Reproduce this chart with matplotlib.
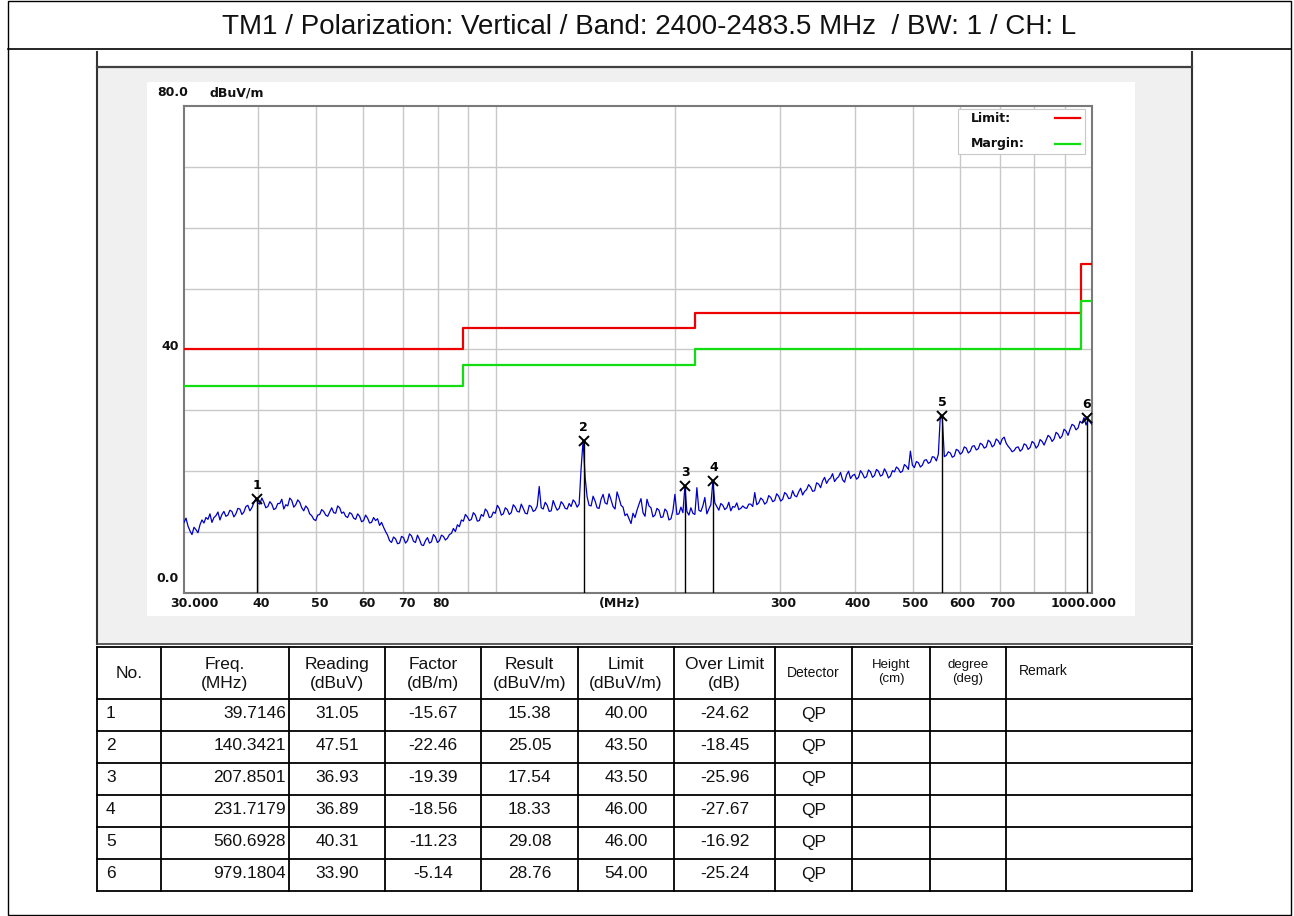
import matplotlib
matplotlib.use("Agg")
import matplotlib.pyplot as plt
import matplotlib.transforms as mtransforms
from matplotlib.patches import Rectangle
import numpy as np

W, H = 1294, 916

title = "TM1 / Polarization: Vertical / Band: 2400-2483.5 MHz  / BW: 1 / CH: L"

# limit and margin steps (MHz, dBuV/m)
step_freq = [30, 88, 216, 960, 1000]
limit_level = [40, 43.5, 46, 54, 54]
margin_level = [34, 37.5, 40, 48, 48]

trace_level = [
    11.6, 12.3, 11.0, 10.2, 9.6, 10.8, 10.4, 9.9, 11.2, 12.0, 11.5, 12.4,
    12.1, 13.0, 11.6, 12.4, 12.7, 13.3, 12.0, 12.9, 13.4, 12.6, 12.8, 13.6,
    13.4, 12.5, 13.0, 13.9, 13.8, 12.9, 13.3, 14.2, 14.4, 13.5, 14.0, 14.8,
    15.5, 14.8, 14.6, 15.6, 14.9, 14.0, 14.2, 15.0, 14.6, 13.7, 13.9, 14.7,
    14.7, 15.4, 13.8, 14.5, 14.3, 15.6, 15.2, 14.1, 14.5, 15.3, 14.9, 14.0,
    13.5, 14.3, 13.9, 13.0, 12.7, 12.1, 11.9, 12.8, 12.9, 13.7, 13.4, 12.8,
    12.6, 13.3, 14.0, 13.2, 13.1, 14.3, 14.0, 13.1, 13.3, 12.6, 12.4, 13.2,
    13.0, 12.3, 12.1, 13.0, 12.6, 11.7, 11.9, 12.8, 12.3, 11.5, 11.6, 12.4,
    11.9, 12.2, 11.1, 11.6, 10.8, 10.1, 9.5, 8.6, 8.3, 9.2, 8.9, 8.1,
    8.2, 9.3, 9.1, 8.2, 8.6, 9.7, 9.4, 8.5, 8.3, 9.5, 8.8, 7.9,
    7.8, 8.6, 9.1, 8.2, 8.4, 9.6, 9.2, 8.3, 8.6, 9.5, 9.3, 8.7,
    9.0, 9.6, 9.8, 10.6, 10.1, 11.2, 10.9, 12.0, 11.8, 12.9, 12.5, 11.9,
    12.1, 13.2, 12.8, 11.8, 11.9, 12.9, 12.6, 13.8, 13.4, 12.4, 12.5, 13.3,
    13.1, 14.4, 13.9, 12.8, 13.0, 14.0, 13.7, 12.9, 13.2, 14.5, 14.1, 13.4,
    13.3, 14.6, 13.9, 13.1, 13.0, 14.4, 14.2, 13.4, 13.6, 14.3, 17.5, 14.0,
    13.8, 14.9, 14.4, 13.4, 13.5, 15.2, 14.3, 13.6, 13.9, 15.0, 14.6, 13.9,
    13.8, 14.7, 14.2, 15.3, 14.9, 14.1, 14.6, 20.5, 25.1, 19.0, 15.8, 14.4,
    14.3, 15.9, 15.1, 14.0, 13.9, 15.4, 16.2, 14.8, 14.6, 16.3, 15.3, 14.2,
    13.8, 16.6, 15.6, 14.4, 14.1, 12.7, 13.0, 12.2, 11.4, 13.1, 12.4, 13.6,
    14.6, 15.5, 13.2, 12.6, 15.4, 14.3, 14.0, 12.5, 12.8, 13.9, 13.6, 12.4,
    12.5, 13.8, 13.4, 12.0, 12.2, 13.5, 16.2, 12.9, 13.0, 14.1, 13.2, 17.5,
    13.4, 12.8, 14.0, 13.1, 12.9, 17.3, 13.6, 13.4, 14.3, 15.7, 13.0, 13.8,
    14.5, 18.3, 14.8, 14.2, 13.6, 14.7, 14.4, 13.7, 14.0, 14.9, 13.5, 14.2,
    14.1, 14.8, 13.7, 13.9, 14.3, 14.0, 13.9, 14.6, 14.6, 14.2, 16.5, 14.5,
    14.8, 15.6, 15.3, 14.6, 14.9, 16.0, 15.7, 15.0, 15.2, 16.3, 15.9, 15.1,
    15.4, 16.5, 16.2, 15.5, 15.6, 16.8, 16.0, 15.8, 16.6, 17.2, 16.1, 16.7,
    17.0, 17.8, 17.4, 16.7, 16.8, 18.1, 17.9, 17.3, 18.4, 19.0, 18.0, 18.6,
    18.9, 19.6, 18.3, 18.8, 19.1, 19.8, 18.6, 18.2, 19.4, 20.0, 18.8, 19.3,
    19.5, 18.7, 19.0, 20.1, 19.6, 18.9, 19.1, 20.2, 19.9, 19.0, 19.3, 20.3,
    20.0, 19.2, 19.4, 20.4, 19.8, 18.9, 19.2, 20.1, 19.9, 20.7, 20.4, 19.8,
    20.0, 21.1, 20.8, 20.3, 23.3, 21.0, 20.6, 21.6, 21.4, 20.7, 21.0, 21.8,
    21.9, 21.3, 21.5, 22.4, 22.3, 21.7, 22.8, 29.1, 28.6, 22.4, 22.6, 23.2,
    23.0, 22.3, 22.5, 23.6, 23.4, 22.8, 23.1, 24.0, 23.8, 23.0, 23.3, 24.1,
    24.2, 23.5, 23.7, 24.6, 24.4, 23.8, 24.0, 25.1, 24.8, 24.0, 24.3, 25.3,
    25.0, 24.4, 25.3, 25.6, 24.6, 24.1, 23.7, 23.2, 23.4, 23.9, 24.0, 23.3,
    23.6, 24.5, 24.3, 23.6, 23.9, 24.9, 24.6, 23.8, 24.2, 25.2, 24.9, 24.3,
    25.1, 25.9, 25.6, 24.9, 25.3, 26.4, 26.1, 25.4, 25.8, 26.9, 26.6, 25.9,
    26.9, 27.7, 27.5, 26.8, 27.1, 28.2, 27.9, 28.8, 27.6, 28.4, 28.1, 27.7,
]
trace_freq = np.geomspace(30, 1000, len(trace_level))

# marker table
mk_no = [1, 2, 3, 4, 5, 6]
mk_freq = [39.7146, 140.3421, 207.8501, 231.7179, 560.6928, 979.1804]
mk_reading = [31.05, 47.51, 36.93, 36.89, 40.31, 33.90]
mk_factor = [-15.67, -22.46, -19.39, -18.56, -11.23, -5.14]
mk_result = [15.38, 25.05, 17.54, 18.33, 29.08, 28.76]
mk_limit = [40.00, 43.50, 43.50, 46.00, 46.00, 54.00]
mk_over = [-24.62, -18.45, -25.96, -27.67, -16.92, -25.24]
mk_det = ["QP"] * 6

x_grid = [40, 50, 60, 70, 80, 90, 100, 200, 300, 400, 500, 600, 700, 800, 900]
x_labels = [(40, "40"), (50, "50"), (60, "60"), (70, "70"), (80, "80"),
            (300, "300"), (400, "400"), (500, "500"), (600, "600"), (700, "700")]

fig = plt.figure(figsize=(W / 100, H / 100), dpi=100)

# background layer in pixel coordinates
bg = fig.add_axes([0, 0, 1, 1], zorder=0)
bg.set_xlim(0, W)
bg.set_ylim(H, 0)
bg.axis("off")

bg.add_patch(Rectangle((7.5, 0.5), 1283.5, 914.5, fc="white", ec="black", lw=1))
bg.plot([7.5, 1291], [49, 49], color="black", lw=1.2)
bg.text(649, 27, title, ha="center", va="center", fontsize=20,
        family="Liberation Sans", color="#111111")

bg.add_patch(Rectangle((97, 67), 1095, 577, fc="#f0f0f0", ec="none"))
bg.plot([97, 97], [52, 644], color="#333333", lw=1.5)
bg.plot([1192, 1192], [52, 644], color="#333333", lw=1.5)
bg.plot([97, 1192], [67, 67], color="#404040", lw=1.6)
bg.plot([97, 1192], [644, 644], color="#404040", lw=1.2)
bg.add_patch(Rectangle((147, 82), 988, 534, fc="white", ec="none"))

# table
col_x = [97, 161, 289, 385, 481, 578, 674, 775, 852, 930, 1006, 1192]
row_y = [647, 699, 731, 763, 795, 827, 859, 891]
for x in col_x:
    bg.plot([x, x], [row_y[0], row_y[-1]], color="black", lw=1.3)
for y in row_y:
    bg.plot([col_x[0], col_x[-1]], [y, y], color="black", lw=1.3)

tf = "Liberation Sans"
hy = (row_y[0] + row_y[1]) / 2
heads = ["No.", "Freq.\n(MHz)", "Reading\n(dBuV)", "Factor\n(dB/m)", "Result\n(dBuV/m)",
         "Limit\n(dBuV/m)", "Over Limit\n(dB)"]
for i, t in enumerate(heads):
    cx = (col_x[i] + col_x[i + 1]) / 2
    bg.text(cx, hy + 1, t, ha="center", va="center", fontsize=12.5, family=tf,
            linespacing=1.32, color="#111111")
bg.text((col_x[7] + col_x[8]) / 2, hy, "Detector", ha="center", va="center",
        fontsize=10, family=tf, color="#111111")
bg.text((col_x[8] + col_x[9]) / 2, hy - 1, "Height\n(cm)", ha="center", va="center",
        fontsize=9.5, family=tf, linespacing=1.3, color="#111111")
bg.text((col_x[9] + col_x[10]) / 2, hy - 1, "degree\n(deg)", ha="center", va="center",
        fontsize=9.5, family=tf, linespacing=1.3, color="#111111")
bg.text(col_x[10] + 13, hy - 2, "Remark", ha="left", va="center",
        fontsize=10, family=tf, color="#111111")

for r in range(len(mk_no)):
    cy = (row_y[r + 1] + row_y[r + 2]) / 2 - 1
    kw = dict(va="center", fontsize=12.5, family=tf, color="#111111")
    bg.text(col_x[0] + 9, cy, str(mk_no[r]), ha="left", **kw)
    bg.text(col_x[2] - 3, cy, f"{mk_freq[r]:.4f}", ha="right", **kw)
    vals = [f"{mk_reading[r]:.2f}", f"{mk_factor[r]:.2f}", f"{mk_result[r]:.2f}",
            f"{mk_limit[r]:.2f}", f"{mk_over[r]:.2f}", mk_det[r]]
    for j, v in enumerate(vals):
        cx = (col_x[j + 2] + col_x[j + 3]) / 2
        bg.text(cx, cy, v, ha="center", **kw)

# spectrum plot
ax = fig.add_axes([184 / W, 1 - 593 / H, 908 / W, 487 / H], zorder=1)
ax.set_facecolor("white")
ax.set_xscale("log")
ax.set_xlim(30, 1000)
ax.set_ylim(0, 80)
ax.set_xticks(x_grid)
ax.set_xticks([], minor=True)
ax.set_yticks(range(10, 80, 10))
ax.tick_params(which="both", length=0, labelbottom=False, labelleft=False)
ax.grid(True, color="#c8c8c8", lw=1)
for s in ax.spines.values():
    s.set_color("#7a7a7a")
    s.set_linewidth(1.5)

ax.step(step_freq, limit_level, where="post", color="#ee0000", lw=1.6, zorder=3)
ax.step(step_freq, margin_level, where="post", color="#11dd11", lw=1.6, zorder=3)
ax.plot(trace_freq, trace_level, color="#0000c8", lw=0.9, zorder=4)

ax.vlines(mk_freq, 0, mk_result, color="black", lw=1, zorder=5)
ax.plot(mk_freq, mk_result, ls="none", marker="x", ms=7, mew=1.4, color="black", zorder=6)
for n, f, v in zip(mk_no, mk_freq, mk_result):
    ax.annotate(str(n), (f, v), xytext=(0, 5), textcoords="offset points",
                ha="center", va="bottom", fontsize=9, fontweight="bold", zorder=6)

pf = dict(fontsize=9, fontweight="bold", family="DejaVu Sans", color="#111111")
xt = ax.get_xaxis_transform()
for f, t in x_labels:
    tr = xt + mtransforms.ScaledTranslation(3 / 100, 0, fig.dpi_scale_trans)
    ax.text(f, -0.022, t, transform=tr, ha="center", va="center", **pf)
ax.text(30, -0.022, "30.000", transform=xt + mtransforms.ScaledTranslation(-14 / 100, 0, fig.dpi_scale_trans),
        ha="left", va="center", **pf)
ax.text(1000, -0.022, "1000.000", transform=xt + mtransforms.ScaledTranslation(25 / 100, 0, fig.dpi_scale_trans),
        ha="right", va="center", **pf)
ax.text(0.48, -0.022, "(MHz)", transform=ax.transAxes, ha="center", va="center", **pf)

yt = ax.get_yaxis_transform()
ax.text(0, 80, "80.0", transform=yt + mtransforms.ScaledTranslation(4 / 100, 13 / 100, fig.dpi_scale_trans),
        ha="right", va="center", **pf)
ax.text(0, 80, "dBuV/m", transform=yt + mtransforms.ScaledTranslation(25 / 100, 13 / 100, fig.dpi_scale_trans),
        ha="left", va="center", **pf)
ax.text(0, 40, "40", transform=yt + mtransforms.ScaledTranslation(-5 / 100, 3 / 100, fig.dpi_scale_trans),
        ha="right", va="center", **pf)
ax.text(0, 0, "0.0", transform=yt + mtransforms.ScaledTranslation(-5 / 100, 14 / 100, fig.dpi_scale_trans),
        ha="right", va="center", **pf)

# legend box on top
fg = fig.add_axes([0, 0, 1, 1], zorder=2)
fg.set_xlim(0, W)
fg.set_ylim(H, 0)
fg.axis("off")
fg.add_patch(Rectangle((958, 109), 127, 45, fc="white", ec="#c8c8c8", lw=0.8))
fg.text(971, 119, "Limit:", ha="left", va="center", **pf)
fg.text(971, 143, "Margin:", ha="left", va="center", **pf)
fg.plot([1055, 1080], [118, 118], color="#ee0000", lw=1.6)
fg.plot([1055, 1080], [144, 144], color="#11dd11", lw=1.6)

fig.savefig("out.png", dpi=100)
